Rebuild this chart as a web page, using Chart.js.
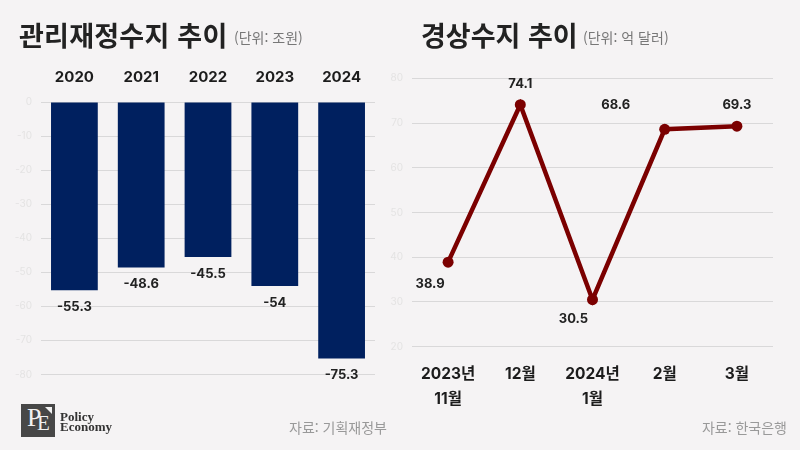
<!DOCTYPE html>
<html lang="ko">
<head>
<meta charset="utf-8">
<script src="https://cdn.jsdelivr.net/npm/chart.js@4"></script>
<style>
  html, body { margin: 0; padding: 0; }
  body { width: 800px; height: 450px; background: #f5f3f4; position: relative; overflow: hidden; font-family: Inter, "Noto Sans CJK KR", sans-serif; }
  canvas { position: absolute; top: 0; }
  .txt { position: absolute; white-space: nowrap; line-height: 1; }
  .title { font-size: 27px; font-weight: 700; color: #222; top: 21px; font-family: "Noto Sans CJK KR", sans-serif; }
  .unit { font-size: 14px; color: #777; top: 30px; font-family: "Noto Sans CJK KR", sans-serif; }
  .source { font-size: 14px; color: #999; top: 420px; font-family: "Noto Sans CJK KR", sans-serif; }
  .logo { position: absolute; left: 21px; top: 404px; width: 34px; height: 33px; background: #474747; overflow: hidden; }
  .logo span { position: absolute; font-family: "Liberation Serif", serif; color: #f2f2f2; line-height: 1; }
  .logo i { position: absolute; right: 3px; top: 3px; width: 0; height: 0; border-top: 7px solid #f2f2f2; border-left: 7px solid transparent; }
  .brand { font-family: "Liberation Serif", serif; font-weight: 700; font-size: 13px; color: #333; left: 60px; }
</style>
</head>
<body>
<canvas id="fiscalChart" style="left:0" width="380" height="450"></canvas>
<canvas id="currentChart" style="left:380px" width="420" height="450"></canvas>

<div class="txt title" style="left:19px;letter-spacing:.25px">관리재정수지 추이</div>
<div class="txt unit" style="left:234px">(단위: 조원)</div>
<div class="txt title" style="left:421px">경상수지 추이</div>
<div class="txt unit" style="left:583px">(단위: 억 달러)</div>
<div class="txt source" style="right:413px">자료: 기획재정부</div>
<div class="txt source" style="right:13px">자료: 한국은행</div>

<div class="logo">
  <span style="left:6px;top:1px;font-size:26px">P</span>
  <span style="left:16px;top:9px;font-size:21px">E</span>
  <i></i>
</div>
<div class="txt brand" style="top:410px">Policy</div>
<div class="txt brand" style="top:420px">Economy</div>

<script>
const years = ['2020', '2021', '2022', '2023', '2024']
const fiscalBalance = [-55.3, -48.6, -45.5, -54, -75.3]

const months = [['2023년', '11월'], '12월', ['2024년', '1월'], '2월', '3월']
const currentBalance = [38.9, 74.1, 30.5, 68.6, 69.3]

const sans = 'Inter, "Noto Sans CJK KR", sans-serif'
const gridColor = '#d9d8d9'
const tickColor = '#e4e3e3'

// labels sit at hand-picked offsets from their marks, as in the original
const labelOffsets = [[-18, 22], [0, -21], [-19, 19], [-49, -24], [0, -21]]

const valueLabels = {
  id: 'valueLabels',
  afterDatasetsDraw(chart, args, opts) {
    const { ctx } = chart
    const data = chart.data.datasets[0].data
    ctx.save()
    ctx.font = `700 ${opts.size}px ${sans}`
    ctx.fillStyle = '#222'
    ctx.textAlign = 'center'
    ctx.textBaseline = 'middle'
    chart.getDatasetMeta(0).data.forEach((el, i) => {
      const off = opts.offsets ? opts.offsets[i] : [0, 17]
      ctx.fillText(String(data[i]), el.x + off[0], el.y + off[1])
    })
    ctx.restore()
  }
}

new Chart(document.getElementById('fiscalChart'), {
  type: 'bar',
  plugins: [valueLabels],
  data: {
    labels: years,
    datasets: [{ data: fiscalBalance, backgroundColor: '#00205f', barPercentage: 0.7, categoryPercentage: 1 }]
  },
  options: {
    responsive: false,
    animation: false,
    layout: { padding: { left: 0, right: 5, top: 0, bottom: 75.5 } },
    plugins: { legend: { display: false }, tooltip: { enabled: false }, valueLabels: { size: 13 } },
    scales: {
      x: {
        position: 'top',
        grid: { display: false },
        border: { display: false },
        afterFit(scale) { scale.height = 102 },
        ticks: { color: '#1c1c1c', font: { family: sans, size: 15, weight: '700' }, padding: 8 }
      },
      y: {
        min: -80,
        max: 0,
        afterFit(scale) { scale.width = 41 },
        grid: { color: gridColor, drawTicks: false },
        border: { display: false },
        ticks: { stepSize: 10, color: tickColor, font: { family: sans, size: 10 }, padding: 9 }
      }
    }
  }
})

new Chart(document.getElementById('currentChart'), {
  type: 'line',
  plugins: [valueLabels],
  data: {
    labels: months,
    datasets: [{
      data: currentBalance,
      borderColor: '#7b0000',
      borderWidth: 4.5,
      pointBackgroundColor: '#7b0000',
      pointBorderWidth: 0,
      pointRadius: 5.5,
      tension: 0
    }]
  },
  options: {
    responsive: false,
    animation: false,
    layout: { padding: { left: 0, right: 27, top: 78.3, bottom: 0 } },
    plugins: { legend: { display: false }, tooltip: { enabled: false }, valueLabels: { size: 13, offsets: labelOffsets } },
    scales: {
      x: {
        offset: true,
        grid: { display: false, offset: true },
        border: { display: false },
        afterFit(scale) { scale.height = 103.3 },
        ticks: { color: '#1c1c1c', font: { family: sans, size: 15.5, weight: '700', lineHeight: 1.62 }, padding: 7, maxRotation: 0, autoSkip: false }
      },
      y: {
        min: 20,
        max: 80,
        afterFit(scale) { scale.width = 32 },
        grid: { color: gridColor, drawTicks: false },
        border: { display: false },
        ticks: { stepSize: 10, color: tickColor, font: { family: sans, size: 10 }, padding: 9 }
      }
    }
  }
})
</script>
</body>
</html>
